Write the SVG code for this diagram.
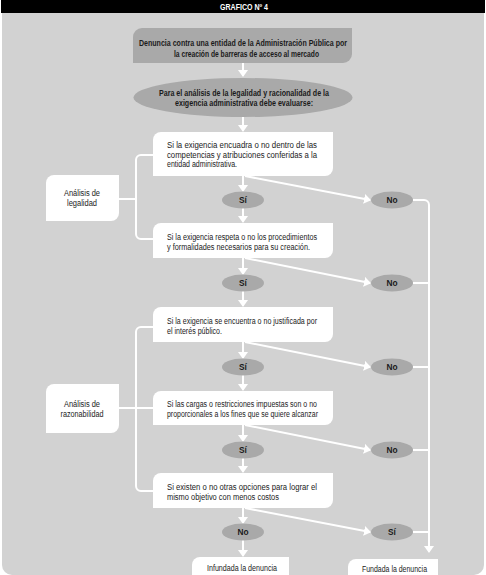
<svg xmlns="http://www.w3.org/2000/svg" width="486" height="575" viewBox="0 0 486 575">
<defs>
<marker id="ah" viewBox="0 0 7 10" markerWidth="7" markerHeight="10" refX="6" refY="5" orient="auto" markerUnits="userSpaceOnUse">
<path d="M0,0 L7,5 L0,10 Z" fill="#ffffff"/>
</marker>
<style>
.t{font-family:"Liberation Sans Narrow","Liberation Sans",Arial,sans-serif;font-size:8.3px;fill:#1a1a1a}
.b{font-weight:bold}
.box{fill:#ffffff}
.gbox{fill:#a9a9a9}
.ov{fill:#a9a9a9}
.ln{fill:none;stroke:#ffffff;stroke-width:2}
.ar{fill:none;stroke:#ffffff;stroke-width:2;marker-end:url(#ah)}
</style>
</defs>
<rect x="0" y="0" width="486" height="575" fill="#ffffff"/>
<path d="M2,13 H484 V565 A10,10 0 0 1 474,575 H12 A10,10 0 0 1 2,565 Z" fill="#d2d2d2"/>
<g id="header">
<rect x="1" y="0" width="484" height="13" fill="#000000"/>
<text class="t b" x="244" y="10" text-anchor="middle" style="fill:#ffffff" textLength="48" lengthAdjust="spacingAndGlyphs">GRAFICO Nº 4</text>
</g>

<g id="connectors">
<path class="ar" d="M243,63 V76"/>
<path class="ar" d="M243,117 V131"/>
<path class="ln" d="M153,155 H141 A5,5 0 0 0 136,160 V234 A5,5 0 0 0 141,239 H153"/>
<path class="ln" d="M119,199 H136"/>
<path class="ln" d="M153,327 H141 A5,5 0 0 0 136,332 V486 A5,5 0 0 0 141,491 H153"/>
<path class="ln" d="M119,408 H153"/>
<path class="ar" d="M243,176 V191"/>
<path class="ar" d="M243,208 V222"/>
<path class="ar" d="M243,258 V274"/>
<path class="ar" d="M243,291 V306"/>
<path class="ar" d="M243,342 V358"/>
<path class="ar" d="M243,375 V390"/>
<path class="ar" d="M243,425 V441"/>
<path class="ar" d="M243,458 V472"/>
<path class="ar" d="M243,508 V523"/>
<path class="ar" d="M243,540 V556"/>
<path class="ar" d="M245,176 L370,200"/>
<path class="ar" d="M245,258 L370,283"/>
<path class="ar" d="M245,342 L370,367"/>
<path class="ar" d="M245,425 L370,450"/>
<path class="ar" d="M245,508 L370,532"/>
<path class="ar" d="M413,200 H424 A5,5 0 0 1 429,205 V552"/>
<path class="ln" d="M413,283 H429"/>
<path class="ln" d="M413,367 H429"/>
<path class="ln" d="M413,450 H429"/>
<path class="ln" d="M413,532 H429"/>
</g>

<g id="denuncia">
<path class="gbox" d="M133,37 A9,9 0 0 1 142,28 H352 V54 A9,9 0 0 1 343,63 H133 Z"/>
<text class="t b" x="139" y="46" textLength="208" lengthAdjust="spacingAndGlyphs">Denuncia contra una entidad de la Administración Pública por</text>
<text class="t b" x="174" y="57" textLength="145" lengthAdjust="spacingAndGlyphs">la creación de barreras de acceso al mercado</text>
</g>

<g id="evaluar">
<ellipse class="ov" cx="243" cy="97.5" rx="109.5" ry="19.5"/>
<text class="t b" x="159" y="95.5" textLength="170" lengthAdjust="spacingAndGlyphs">Para el análisis de la legalidad y racionalidad de la</text>
<text class="t b" x="175" y="106" textLength="138" lengthAdjust="spacingAndGlyphs">exigencia administrativa debe evaluarse:</text>
</g>

<g id="legalidad">
<path class="box" d="M46,183 A8,8 0 0 1 54,175 H119 V213 A8,8 0 0 1 111,221 H46 Z"/>
<text class="t" x="82" y="195.5" text-anchor="middle" textLength="36" lengthAdjust="spacingAndGlyphs">Análisis de</text>
<text class="t" x="82" y="206" text-anchor="middle" textLength="30" lengthAdjust="spacingAndGlyphs">legalidad</text>
</g>

<g id="razonabilidad">
<path class="box" d="M46,392 A8,8 0 0 1 54,384 H119 V425 A8,8 0 0 1 111,433 H46 Z"/>
<text class="t" x="82" y="407" text-anchor="middle" textLength="36" lengthAdjust="spacingAndGlyphs">Análisis de</text>
<text class="t" x="82" y="417" text-anchor="middle" textLength="43" lengthAdjust="spacingAndGlyphs">razonabilidad</text>
</g>

<g id="q1">
<path class="box" d="M153,140 A8,8 0 0 1 161,132 H333 V168 A8,8 0 0 1 325,176 H153 Z"/>
<text class="t" x="167" y="148" textLength="150" lengthAdjust="spacingAndGlyphs">Si la exigencia encuadra o no dentro de las</text>
<text class="t" x="167" y="157.5" textLength="150" lengthAdjust="spacingAndGlyphs">competencias y atribuciones conferidas a la</text>
<text class="t" x="167" y="167" textLength="70" lengthAdjust="spacingAndGlyphs">entidad administrativa.</text>
</g>
<g id="q2">
<path class="box" d="M153,231 A8,8 0 0 1 161,223 H333 V250 A8,8 0 0 1 325,258 H153 Z"/>
<text class="t" x="167" y="240" textLength="150" lengthAdjust="spacingAndGlyphs">Si la exigencia respeta o no los procedimientos</text>
<text class="t" x="167" y="250" textLength="143" lengthAdjust="spacingAndGlyphs">y formalidades necesarios para su creación.</text>
</g>
<g id="q3">
<path class="box" d="M153,315 A8,8 0 0 1 161,307 H333 V334 A8,8 0 0 1 325,342 H153 Z"/>
<text class="t" x="167" y="324" textLength="150" lengthAdjust="spacingAndGlyphs">Si la exigencia se encuentra o no justificada por</text>
<text class="t" x="167" y="334" textLength="55" lengthAdjust="spacingAndGlyphs">el interés público.</text>
</g>
<g id="q4">
<path class="box" d="M153,399 A8,8 0 0 1 161,391 H333 V417 A8,8 0 0 1 325,425 H153 Z"/>
<text class="t" x="167" y="407" textLength="150" lengthAdjust="spacingAndGlyphs">Si las cargas o restricciones impuestas son o no</text>
<text class="t" x="167" y="416.5" textLength="151" lengthAdjust="spacingAndGlyphs">proporcionales a los fines que se quiere alcanzar</text>
</g>
<g id="q5">
<path class="box" d="M153,481 A8,8 0 0 1 161,473 H333 V500 A8,8 0 0 1 325,508 H153 Z"/>
<text class="t" x="167" y="490" textLength="150" lengthAdjust="spacingAndGlyphs">Si existen o no otras opciones para lograr el</text>
<text class="t" x="167" y="499.5" textLength="112" lengthAdjust="spacingAndGlyphs">mismo objetivo con menos costos</text>
</g>

<g id="si1"><ellipse class="ov" cx="243" cy="200" rx="21" ry="8.5"/><text class="t b" x="243" y="203" text-anchor="middle">Sí</text></g>
<g id="no1"><ellipse class="ov" cx="392" cy="200" rx="21" ry="8.5"/><text class="t b" x="392" y="203" text-anchor="middle">No</text></g>
<g id="si2"><ellipse class="ov" cx="243" cy="283" rx="21" ry="8.5"/><text class="t b" x="243" y="286" text-anchor="middle">Sí</text></g>
<g id="no2"><ellipse class="ov" cx="392" cy="283" rx="21" ry="8.5"/><text class="t b" x="392" y="286" text-anchor="middle">No</text></g>
<g id="si3"><ellipse class="ov" cx="243" cy="367" rx="21" ry="8.5"/><text class="t b" x="243" y="370" text-anchor="middle">Sí</text></g>
<g id="no3"><ellipse class="ov" cx="392" cy="367" rx="21" ry="8.5"/><text class="t b" x="392" y="370" text-anchor="middle">No</text></g>
<g id="si4"><ellipse class="ov" cx="243" cy="450" rx="21" ry="8.5"/><text class="t b" x="243" y="453" text-anchor="middle">Sí</text></g>
<g id="no4"><ellipse class="ov" cx="392" cy="450" rx="21" ry="8.5"/><text class="t b" x="392" y="453" text-anchor="middle">No</text></g>
<g id="no5"><ellipse class="ov" cx="243" cy="532" rx="21" ry="8.5"/><text class="t b" x="243" y="535" text-anchor="middle">No</text></g>
<g id="si5"><ellipse class="ov" cx="392" cy="532" rx="21" ry="8.5"/><text class="t b" x="392" y="535" text-anchor="middle">Sí</text></g>

<g id="infundada">
<path class="box" d="M192,565 A8,8 0 0 1 200,557 H289 V575 H192 Z"/>
<text class="t" x="242" y="571" text-anchor="middle" textLength="70" lengthAdjust="spacingAndGlyphs">Infundada la denuncia</text>
</g>
<g id="fundada">
<path class="box" d="M348,567 A8,8 0 0 1 356,559 H438 V575 H348 Z"/>
<text class="t" x="394.5" y="572" text-anchor="middle" textLength="65" lengthAdjust="spacingAndGlyphs">Fundada la denuncia</text>
</g>
</svg>
